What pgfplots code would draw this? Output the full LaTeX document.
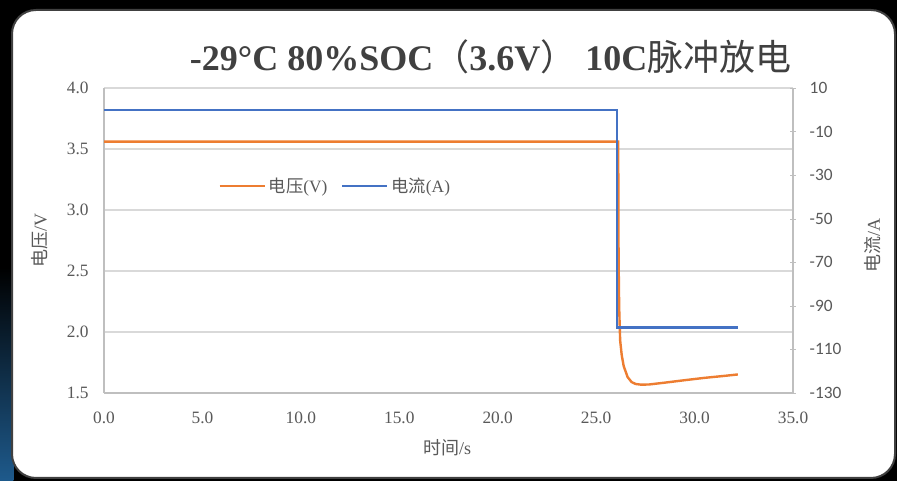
\documentclass[border=0pt]{standalone}
\usepackage{fontspec}
\setmainfont{Liberation Serif}
\newfontfamily\cjk{Noto Sans CJK SC}
\newfontfamily\carlito{Carlito}
\usepackage{pgfplots}
\pgfplotsset{compat=1.18}
\definecolor{vorange}{HTML}{ED7D31}
\definecolor{cblue}{HTML}{4472C4}
\definecolor{gridgray}{HTML}{D9D9D9}
\definecolor{axisgray}{HTML}{BFBFBF}
\definecolor{txtgray}{HTML}{595959}
\definecolor{titlegray}{HTML}{404040}
\definecolor{glow}{HTML}{1E5A8C}
\begin{document}
\begin{tikzpicture}
\useasboundingbox (0,0) rectangle (672.75pt,360.75pt);
\fill[black] (0,0) rectangle (672.75pt,360.75pt);
\shade[top color=black, bottom color=glow] (0,0) rectangle (10pt,160pt);
\fill[white, draw=black!75, line width=1.5pt, rounded corners=18pt] (9pt,2.25pt) rectangle (671.25pt,353.25pt);
\node[text=titlegray, font=\fontsize{27}{31}\selectfont\bfseries] at (368pt,318pt)
  {-29°C 80\%SOC{\cjk\mdseries （}3.6V{\cjk\mdseries ）} 10C{\cjk\mdseries 脉冲放电}};
\begin{axis}[
  at={(78pt,66pt)}, anchor=south west,
  width=516.75pt, height=228.75pt, scale only axis,
  xmin=0, xmax=35, ymin=1.5, ymax=4.0,
  xtick={0,5,...,35}, ytick={1.5,2.0,...,4.0},
  /pgf/number format/assume math mode=true,
  xticklabel={\pgfmathprintnumber[fixed,fixed zerofill,precision=1]{\tick}},
  yticklabel={\pgfmathprintnumber[fixed,fixed zerofill,precision=1]{\tick}},
  ticklabel style={font=\fontsize{13}{15}\selectfont, text=txtgray},
  xticklabel shift=11pt, yticklabel shift=8pt,
  axis x line*=bottom, axis y line*=left,
  axis line style={-, draw=axisgray, line width=0.8pt},
  major tick length=0pt,
  ymajorgrids, grid style={draw=gridgray, line width=0.9pt},
  xlabel={{\cjk 时间}/s}, ylabel={{\cjk 电压}/V},
  label style={font=\fontsize{13.5}{15}\selectfont, text=txtgray},
  xlabel style={at={(axis description cs:0.498,-0.18)}, anchor=center},
  ylabel style={at={(axis description cs:-0.093,0.5)}, anchor=center},
  legend style={at={(0.336,0.679)}, anchor=center, draw=none, fill=none,
    legend columns=2, font=\fontsize{13}{15}\selectfont, text=txtgray,
    nodes={inner xsep=2pt},
    /tikz/every even column/.append style={column sep=8pt}},
  legend image code/.code={\draw[#1] (-6pt,0pt) -- (28pt,0pt);},
]
\addplot[vorange, line width=1.8pt] coordinates {
 (0,3.56) (26.12,3.56) (26.14,2.6) (26.17,2.2) (26.22,1.93) (26.3,1.81) (26.4,1.72)
 (26.6,1.63) (26.8,1.59) (27.0,1.574) (27.3,1.568) (27.7,1.570) (28.5,1.585)
 (29.5,1.605) (30.5,1.624) (31.5,1.640) (32.2,1.652)};
\addlegendentry{{\cjk 电压}(V)}
\addlegendimage{cblue, line width=1.9pt}
\addlegendentry{{\cjk 电流}(A)}
\end{axis}
\begin{axis}[
  at={(78pt,66pt)}, anchor=south west,
  width=516.75pt, height=228.75pt, scale only axis,
  xmin=0, xmax=35, ymin=-130, ymax=10,
  ytick={-130,-110,...,10},
  axis x line=none, axis y line*=right,
  axis line style={-, draw=axisgray, line width=0.8pt},
  major tick length=4pt, tick align=center, tick style={draw=axisgray},
  yticklabel shift=7pt,
  ticklabel style={font=\carlito\fontsize{13}{15}\selectfont, text=txtgray},
  /pgf/number format/assume math mode=true,
  ylabel={{\cjk 电流}/A},
  label style={font=\fontsize{13.5}{15}\selectfont, text=txtgray},
  ylabel style={at={(axis description cs:1.116,0.485)}, anchor=center, rotate=0},
]
\addplot[cblue, line width=1.9pt] coordinates {
 (0,0) (26.05,0) (26.05,-100) (32.2,-100)};
\end{axis}
\end{tikzpicture}
\end{document}
